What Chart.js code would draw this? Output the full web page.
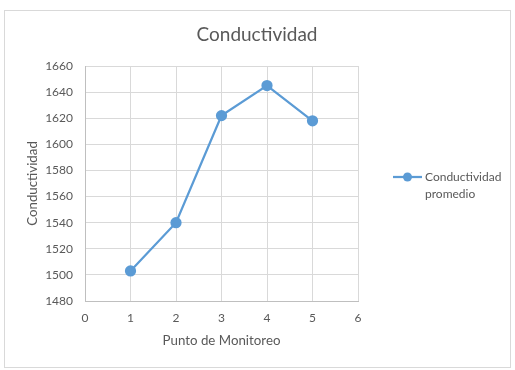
<!DOCTYPE html>
<html>
<head>
<meta charset="utf-8">
<script src="https://cdn.jsdelivr.net/npm/chart.js"></script>
<style>
  html, body { margin: 0; padding: 0; background: #fff; }
  #wrap { position: relative; width: 515px; height: 370px; }
  #frame { position: absolute; left: 4px; top: 10px; width: 505px; height: 356px; border: 1px solid #d9d9d9; }
  #myChart { position: absolute; left: 0; top: 0; }
</style>
</head>
<body>
<div id="wrap">
  <div id="frame"></div>
  <canvas id="myChart" width="515" height="370"></canvas>
</div>
<script>
const puntos = [1, 2, 3, 4, 5];
const conductividad = [1503, 1540, 1622, 1645, 1618];
const serieNombre = ["Conductividad", "promedio"];
const tituloGrafico = "Conductividad";

const textColor = "#595959";
const lineColor = "#5b9bd5";
const fontName = "Lato, 'Open Sans', sans-serif";

// titulo centrado en todo el grafico y leyenda en dos renglones (como Excel)
const excelPlugin = {
    id: "excelExtras",
    afterDraw(chart) {
        const ctx = chart.ctx;
        ctx.save();
        ctx.fillStyle = textColor;
        ctx.font = "19px " + fontName;
        ctx.textAlign = "center";
        ctx.textBaseline = "middle";
        ctx.fillText(tituloGrafico, 257, 35);

        const x0 = 393, y0 = 177;
        ctx.strokeStyle = lineColor;
        ctx.lineWidth = 2.25;
        ctx.beginPath();
        ctx.moveTo(x0, y0);
        ctx.lineTo(x0 + 29, y0);
        ctx.stroke();
        ctx.fillStyle = lineColor;
        ctx.beginPath();
        ctx.arc(x0 + 14.5, y0, 4.5, 0, Math.PI * 2);
        ctx.fill();
        ctx.fillStyle = textColor;
        ctx.font = "12px " + fontName;
        ctx.textAlign = "left";
        serieNombre.forEach((t, i) => ctx.fillText(t, x0 + 32, y0 + i * 17));
        ctx.restore();
    }
};

const config = {
    type: "scatter",
    data: {
        datasets: [{
            label: serieNombre.join(" "),
            data: puntos.map((x, i) => ({ x: x, y: conductividad[i] })),
            showLine: true,
            borderColor: lineColor,
            backgroundColor: lineColor,
            borderWidth: 2.25,
            pointRadius: 4.5,
            pointHoverRadius: 4.5
        }]
    },
    options: {
        responsive: false,
        animation: false,
        layout: { padding: { left: 0, right: 157, top: 66, bottom: 14 } },
        plugins: {
            legend: { display: false },
            tooltip: { enabled: false },
            title: { display: false }
        },
        scales: {
            x: {
                type: "linear",
                min: 0,
                max: 6,
                ticks: { stepSize: 1, color: textColor, font: { family: fontName, size: 12 }, padding: 10 },
                grid: { color: "#d9d9d9", drawTicks: false },
                border: { color: "#bfbfbf" },
                title: {
                    display: true,
                    text: "Punto de Monitoreo",
                    color: textColor,
                    font: { family: fontName, size: 13.3 },
                    padding: { top: 0, bottom: 7 }
                },
                afterFit(scale) { scale.height = 55; }
            },
            y: {
                min: 1480,
                max: 1660,
                ticks: {
                    stepSize: 20,
                    color: textColor,
                    font: { family: fontName, size: 12 },
                    padding: 12,
                    callback: (v) => String(v)
                },
                grid: { color: "#d9d9d9", drawTicks: false },
                border: { color: "#bfbfbf" },
                title: {
                    display: true,
                    text: "Conductividad",
                    color: textColor,
                    font: { family: fontName, size: 13.3 },
                    padding: { top: 25, bottom: 0 }
                },
                afterFit(scale) { scale.width = 85; }
            }
        }
    },
    plugins: [excelPlugin]
};

const myChart = new Chart(document.getElementById("myChart"), config);
</script>
</body>
</html>
